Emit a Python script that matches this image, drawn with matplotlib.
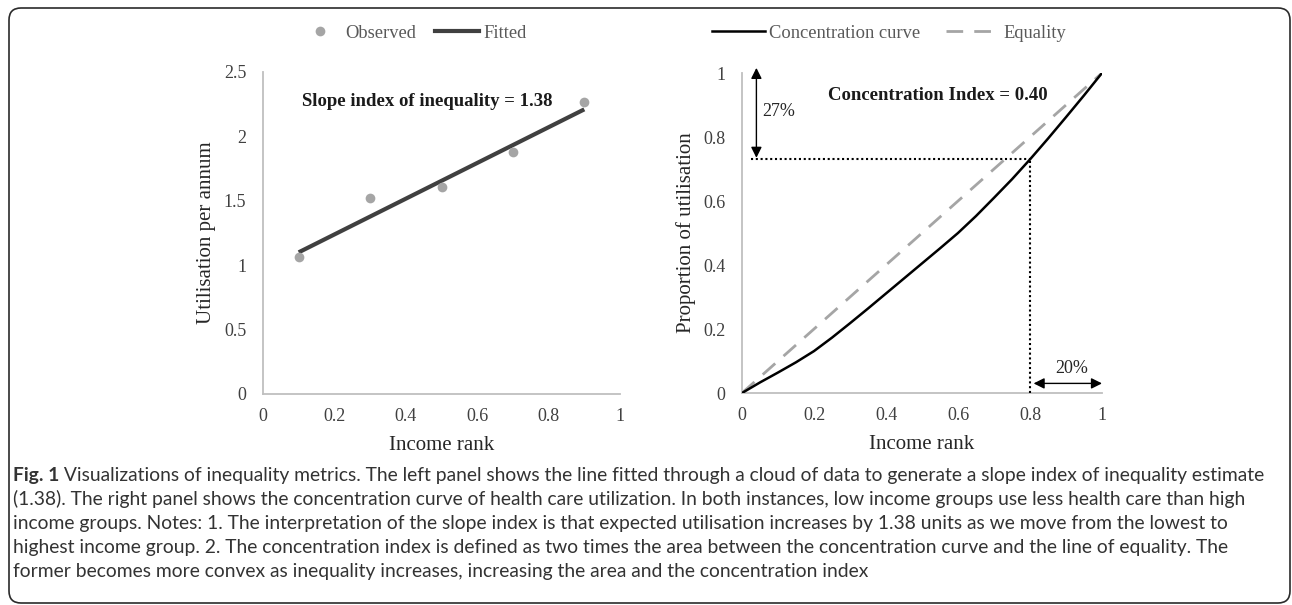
import matplotlib
matplotlib.use('Agg')
import matplotlib.pyplot as plt
from matplotlib.lines import Line2D
from matplotlib.patches import FancyBboxPatch
from matplotlib.transforms import IdentityTransform

# ---------------- data ----------------
income_rank = [0.1, 0.3, 0.5, 0.7, 0.9]
observed = [1.06, 1.52, 1.61, 1.88, 2.27]
fitted_x = [0.1, 0.9]
fitted_y = [1.10, 2.21]

cc_x = [0.0, 0.05, 0.1, 0.15, 0.2, 0.25, 0.3, 0.35, 0.4, 0.45, 0.5, 0.55, 0.6, 0.65, 0.7, 0.75, 0.8, 0.85, 0.9, 0.95, 1.0]
cc_y = [0.0, 0.033, 0.064, 0.096, 0.131, 0.173, 0.218, 0.264, 0.311, 0.358, 0.405, 0.452, 0.50, 0.553, 0.61, 0.668, 0.73, 0.795, 0.862, 0.93, 1.0]
eq_x = [0.0, 1.0]
eq_y = [0.0, 1.0]

left_yticks = [0, 0.5, 1, 1.5, 2, 2.5]
left_yticklabels = ["0", "0.5", "1", "1.5", "2", "2.5"]
xticks = [0, 0.2, 0.4, 0.6, 0.8, 1]
xticklabels = ["0", "0.2", "0.4", "0.6", "0.8", "1"]
right_yticks = [0, 0.2, 0.4, 0.6, 0.8, 1]
right_yticklabels = ["0", "0.2", "0.4", "0.6", "0.8", "1"]

caption_bold = "Fig. 1"
caption_lines = [
    " Visualizations of inequality metrics. The left panel shows the line fitted through a cloud of data to generate a slope index of inequality estimate",
    "(1.38). The right panel shows the concentration curve of health care utilization. In both instances, low income groups use less health care than high",
    "income groups. Notes: 1. The interpretation of the slope index is that expected utilisation increases by 1.38 units as we move from the lowest to",
    "highest income group. 2. The concentration index is defined as two times the area between the concentration curve and the line of equality. The",
    "former becomes more convex as inequality increases, increasing the area and the concentration index",
]

# ---------------- figure ----------------
W, H = 1292, 605
DPI = 100
plt.rcParams['font.family'] = ['Liberation Serif', 'DejaVu Serif']
fig = plt.figure(figsize=(W / DPI, H / DPI), dpi=DPI)
fig.patch.set_facecolor('white')

def px_axes(l, t, r, b):
    return fig.add_axes([l / W, 1 - b / H, (r - l) / W, (b - t) / H])

tick_col = '#404040'
axis_col = '#bfbfbf'
lab_col = '#262626'

def style(ax):
    for s in ['top', 'right']:
        ax.spines[s].set_visible(False)
    for s in ['left', 'bottom']:
        ax.spines[s].set_color(axis_col)
        ax.spines[s].set_linewidth(1.3)
    ax.tick_params(axis='both', length=0, labelsize=13, colors=tick_col)
    ax.tick_params(axis='x', pad=10)
    ax.tick_params(axis='y', pad=12)
    ax.set_facecolor('none')

# ---- left panel ----
ax1 = px_axes(263, 72, 620, 394)
style(ax1)
ax1.plot(fitted_x, fitted_y, color='#404040', lw=3.0, solid_capstyle='butt', zorder=2)
ax1.plot(income_rank, observed, 'o', color='#a5a5a5', ms=7, mec='none', zorder=3)
ax1.set_xlim(0, 1)
ax1.set_ylim(0, 2.5)
ax1.set_xticks(xticks)
ax1.set_xticklabels(xticklabels)
ax1.set_yticks(left_yticks)
ax1.set_yticklabels(left_yticklabels)
ax1.set_xlabel("Income rank", fontsize=15, color=lab_col)
ax1.set_ylabel("Utilisation per annum", fontsize=15, color=lab_col)
ax1.xaxis.set_label_coords(0.5, -0.161)
ax1.xaxis.label.set_va('center')
ax1.yaxis.set_label_coords(-0.157, 0.5)
ax1.yaxis.label.set_va('center')
ax1.text(0.459, 2.27, "Slope index of inequality = 1.38", fontsize=13.5, fontweight='bold',
         ha='center', va='center', color='#1a1a1a')

leg1 = ax1.legend(handles=[Line2D([], [], marker='o', ls='none', color='#a5a5a5', ms=7, mec='none'),
                           Line2D([], [], color='#404040', lw=3.0)],
                  labels=["Observed", "Fitted"], ncol=2, frameon=False, fontsize=13.3,
                  loc='center', bbox_to_anchor=(412 / W, 1 - 33 / H), bbox_transform=fig.transFigure,
                  handlelength=2.4, handletextpad=0.2, columnspacing=1.0, borderaxespad=0)
for t in leg1.get_texts():
    t.set_color('#595959')

# ---- right panel ----
ax2 = px_axes(742, 73, 1102, 393)
style(ax2)
ax2.plot(eq_x, eq_y, color='#a5a5a5', lw=2.0, dashes=(6, 4), zorder=2)
ax2.plot(cc_x, cc_y, color='black', lw=1.8, zorder=3)
ax2.set_xlim(0, 1)
ax2.set_ylim(0, 1)
ax2.set_xticks(xticks)
ax2.set_xticklabels(xticklabels)
ax2.set_yticks(right_yticks)
ax2.set_yticklabels(right_yticklabels)
ax2.set_xlabel("Income rank", fontsize=15, color=lab_col)
ax2.set_ylabel("Proportion of utilisation", fontsize=15, color=lab_col)
ax2.xaxis.set_label_coords(0.5, -0.16)
ax2.xaxis.label.set_va('center')
ax2.yaxis.set_label_coords(-0.156, 0.5)
ax2.yaxis.label.set_va('center')

# reference lines and arrows
ax2.plot([0.025, 0.8], [0.73, 0.73], color='black', lw=1.5, ls=(0, (1, 1.3)), zorder=4)
ax2.plot([0.8, 0.8], [0.0, 0.73], color='black', lw=1.5, ls=(0, (1, 1.3)), zorder=4)
ax2.annotate("", xy=(0.04, 1.016), xytext=(0.04, 0.735), annotation_clip=False,
             arrowprops=dict(arrowstyle='<|-|>', color='black', lw=1.0, mutation_scale=16,
                             shrinkA=0, shrinkB=0))
ax2.annotate("", xy=(0.81, 0.03), xytext=(1.0, 0.03), annotation_clip=False,
             arrowprops=dict(arrowstyle='<|-|>', color='black', lw=1.0, mutation_scale=16,
                             shrinkA=0, shrinkB=0))
ax2.text(0.056, 0.88, "27%", fontsize=13, ha='left', va='center', color='#262626')
ax2.text(0.915, 0.078, "20%", fontsize=13, ha='center', va='center', color='#262626')
ax2.text(0.543, 0.93, "Concentration Index = 0.40", fontsize=13.5, fontweight='bold',
         ha='center', va='center', color='#1a1a1a')

leg2 = ax2.legend(handles=[Line2D([], [], color='black', lw=1.8),
                           Line2D([], [], color='#a5a5a5', lw=2.0, dashes=(6, 4))],
                  labels=["Concentration curve", "Equality"], ncol=2, frameon=False, fontsize=13.3,
                  loc='center', bbox_to_anchor=(889 / W, 1 - 33 / H), bbox_transform=fig.transFigure,
                  handlelength=2.9, handletextpad=0.2, columnspacing=1.4, borderaxespad=0)
for t in leg2.get_texts():
    t.set_color('#595959')

# ---- frame ----
frame = FancyBboxPatch((9, 2), 1281, 595, boxstyle="round,pad=0,rounding_size=12",
                       transform=IdentityTransform(), fill=False, ec='#2b2b2b', lw=1.2)
fig.add_artist(frame)

# ---- caption ----
cap_font = 'Lato'
cap_col = '#333333'
x0 = 13
baselines = [481, 505, 529, 553, 577]
target_w = 1268 - 13

fs = 12.0
renderer = fig.canvas.get_renderer()
tb = fig.text(0, 0, caption_bold, fontsize=fs, fontweight='bold', family=cap_font)
tr = fig.text(0, 0, caption_lines[0], fontsize=fs, family=cap_font)
wb = tb.get_window_extent(renderer).width
wr = tr.get_window_extent(renderer).width
tb.remove(); tr.remove()
fs = fs * target_w / (wb + wr)

tb = fig.text(x0 / W, 1 - baselines[0] / H, caption_bold, fontsize=fs, fontweight='bold',
              family=cap_font, color=cap_col, va='baseline', ha='left')
wb = tb.get_window_extent(renderer).width
fig.text((x0 + wb) / W, 1 - baselines[0] / H, caption_lines[0], fontsize=fs, family=cap_font,
         color=cap_col, va='baseline', ha='left')
for line, bl in zip(caption_lines[1:], baselines[1:]):
    fig.text(x0 / W, 1 - bl / H, line, fontsize=fs, family=cap_font, color=cap_col,
             va='baseline', ha='left')

fig.savefig('out.png', dpi=DPI)
